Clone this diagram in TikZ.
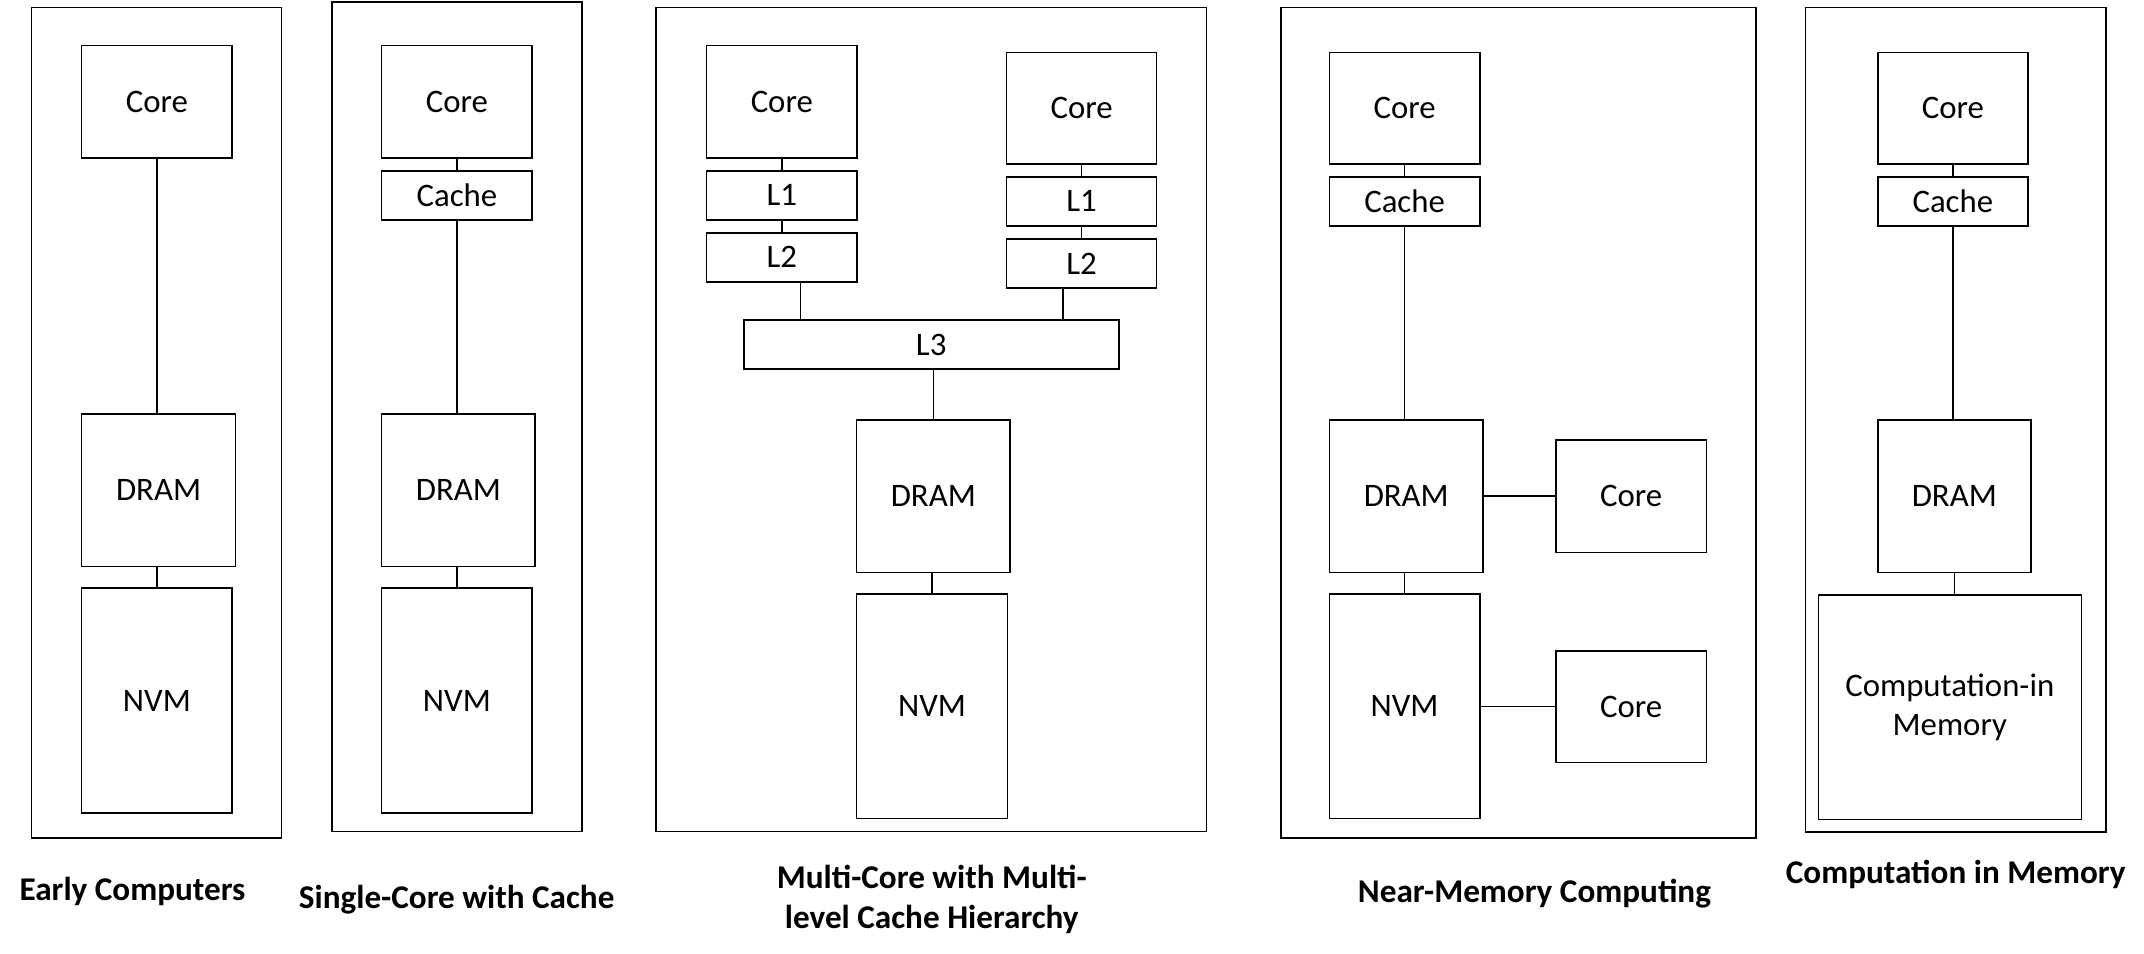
\documentclass[tikz,border=0pt]{standalone}
\usepackage{fontspec}
\setmainfont{Carlito}
\tikzset{
    blk/.style={draw,line width=0.8pt,inner sep=0pt,font=\fontsize{16.4}{19.5}\selectfont},
    ttl/.style={align=center,font=\fontsize{16.6}{20}\selectfont\bfseries},
    frm/.style={draw,line width=0.8pt},
    lnk/.style={line width=0.8pt}
}
\begin{document}
\begin{tikzpicture}[x=0.5pt,y=-0.5pt]
                \useasboundingbox (0,0) rectangle (2144,954);
                \draw[frm] (31.4,7.3) rectangle (281.6,837.8);
                \draw[frm] (331.8,1.8) rectangle (582,831.5);
                \draw[frm] (656.1,7.3) rectangle (1206.3,831.5);
                \draw[frm] (1280.9,7.3) rectangle (1756.1,838);
                \draw[frm] (1805.3,7.3) rectangle (2106,832);
                \node[blk,minimum width=75.3pt,minimum height=56.2pt] (core1) at (156.9,101.8) {Core};
                \node[blk,minimum width=76.95pt,minimum height=76.25pt] (dram1) at (158.55,490.05) {DRAM};
                \node[blk,minimum width=75.3pt,minimum height=112.4pt] (nvm1) at (156.9,700.6) {NVM};
                \draw[lnk] (core1.south) -- (core1.south |- dram1.north);
                \draw[lnk] (nvm1.north) -- (nvm1.north |- dram1.south);
                \node[blk,minimum width=75.3pt,minimum height=56.2pt] (core2) at (456.9,101.8) {Core};
                \node[blk,minimum width=75.3pt,minimum height=24.65pt] (cache2) at (456.9,195.35) {Cache};
                \node[blk,minimum width=76.75pt,minimum height=76.25pt] (dram2) at (458.35,490.05) {DRAM};
                \node[blk,minimum width=75.3pt,minimum height=112.4pt] (nvm2) at (456.9,700.6) {NVM};
                \draw[lnk] (core2) -- (cache2);
                \draw[lnk] (cache2.south) -- (cache2.south |- dram2.north);
                \draw[lnk] (nvm2.north) -- (nvm2.north |- dram2.south);
                \node[blk,minimum width=75.2pt,minimum height=56.2pt] (coreL) at (781.8,101.8) {Core};
                \node[blk,minimum width=75.2pt,minimum height=24.65pt] (l1L) at (781.8,195.35) {L1};
                \node[blk,minimum width=75.2pt,minimum height=24.65pt] (l2L) at (781.8,257.35) {L2};
                \node[blk,minimum width=75pt,minimum height=55.85pt] (coreR) at (1081.6,108.15) {Core};
                \node[blk,minimum width=75pt,minimum height=24.6pt] (l1R) at (1081.6,201.4) {L1};
                \node[blk,minimum width=75pt,minimum height=24.6pt] (l2R) at (1081.6,263.4) {L2};
                \node[blk,minimum width=187.5pt,minimum height=24.3pt] (l3) at (931.2,344.5) {L3};
                \node[blk,minimum width=76.7pt,minimum height=76.25pt] (dram3) at (933.3,496.15) {DRAM};
                \node[blk,minimum width=75.4pt,minimum height=112.1pt] (nvm3) at (932,706.3) {NVM};
                \coordinate (busL) at (800.3,0);
                \coordinate (busR) at (1062.8,0);
                \draw[lnk] (coreL) -- (l1L);
                \draw[lnk] (l1L) -- (l2L);
                \draw[lnk] (coreR) -- (l1R);
                \draw[lnk] (l1R) -- (l2R);
                \draw[lnk] (busL |- l2L.south) -- (busL |- l3.north);
                \draw[lnk] (busR |- l2R.south) -- (busR |- l3.north);
                \draw[lnk] (dram3.north) -- (dram3.north |- l3.south);
                \draw[lnk] (nvm3.north) -- (nvm3.north |- dram3.south);
                \node[blk,minimum width=75.3pt,minimum height=55.85pt] (core4) at (1404.6,108.15) {Core};
                \node[blk,minimum width=75.3pt,minimum height=24.6pt] (cache4) at (1404.6,201.4) {Cache};
                \node[blk,minimum width=76.95pt,minimum height=76.25pt] (dram4) at (1406.25,496.15) {DRAM};
                \node[blk,minimum width=75.3pt,minimum height=112.1pt] (nvm4) at (1404.6,706.3) {NVM};
                \node[blk,minimum width=75.25pt,minimum height=56.2pt] (nearD) at (1631.25,496.1) {Core};
                \node[blk,minimum width=75.25pt,minimum height=55.9pt] (nearN) at (1631.25,706.6) {Core};
                \draw[lnk] (core4) -- (cache4);
                \draw[lnk] (cache4.south) -- (cache4.south |- dram4.north);
                \draw[lnk] (nvm4.north) -- (nvm4.north |- dram4.south);
                \draw[lnk] (dram4.east |- nearD.west) -- (nearD.west);
                \draw[lnk] (nvm4.east |- nearN.west) -- (nearN.west);
                \node[blk,minimum width=74.95pt,minimum height=55.85pt] (core5) at (1952.85,108.15) {Core};
                \node[blk,minimum width=74.95pt,minimum height=24.6pt] (cache5) at (1952.85,201.4) {Cache};
                \node[blk,minimum width=76.4pt,minimum height=76.25pt] (dram5) at (1954.3,496.15) {DRAM};
                \node[blk,minimum width=131.5pt,minimum height=112.15pt,align=center] (cim) at (1949.8,707.15) {Computation-in\\Memory};
                \draw[lnk] (core5) -- (cache5);
                \draw[lnk] (cache5.south) -- (cache5.south |- dram5.north);
                \draw[lnk] (dram5.south) -- (dram5.south |- cim.north);
                \node[ttl] (tEarly) at (132.5,891) {Early Computers};
                \node[ttl] (tSingle) at (456.7,900) {Single-Core with Cache};
                \node[ttl] (tMulti) at (931.8,899) {Multi-Core with Multi-\\level Cache Hierarchy};
                \node[ttl] (tNear) at (1534.5,894) {Near-Memory Computing};
                \node[ttl] (tCim) at (1955.7,874) {Computation in Memory};
\end{tikzpicture}
\end{document}
